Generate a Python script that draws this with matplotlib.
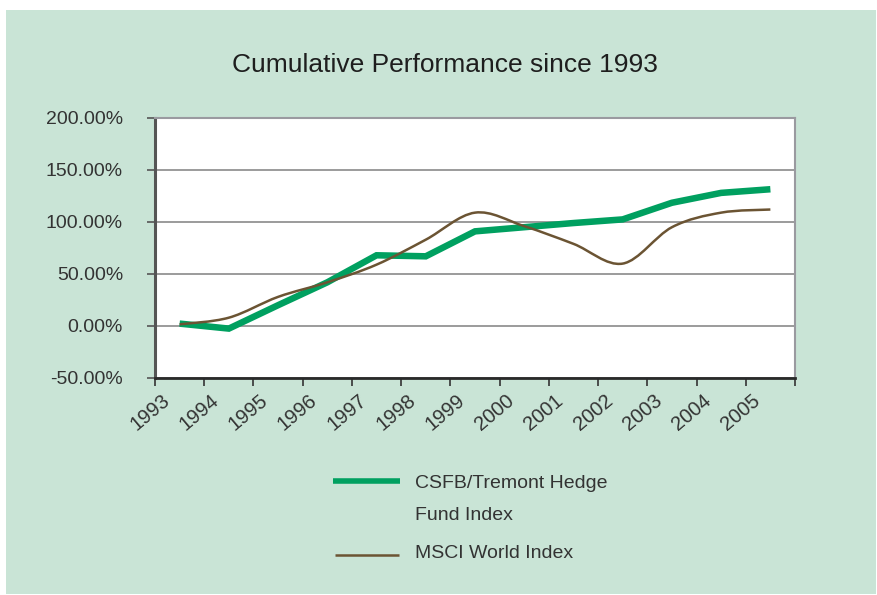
import numpy as np
import matplotlib
matplotlib.use("Agg")
import matplotlib.pyplot as plt
import matplotlib.transforms as mtransforms
from matplotlib.path import Path
from matplotlib.patches import PathPatch, Rectangle
from matplotlib.lines import Line2D

plt.rcParams['font.family'] = ['Liberation Sans', 'DejaVu Sans']

# --- Data (cumulative % since 1993) ---
years = [1993, 1994, 1995, 1996, 1997, 1998, 1999, 2000, 2001, 2002, 2003, 2004, 2005]
hedge_fund = [2.3, -2.5, 20, 42, 68, 67, 91, 95, 99, 102.5, 118.5, 128, 131.5]
msci_world = [1.6, 8, 28, 42, 59, 83, 109, 96, 79, 60, 95, 109, 112]
y_ticks = [-50, 0, 50, 100, 150, 200]

BG = '#C9E4D6'
GREEN = '#00A060'
BROWN = '#6B5433'
TEXT = '#333333'

W, H = 877, 595


def smooth_path(x, y):
    """
    Excel-like smoothed line: each segment drawn as a cubic Bezier
    with Catmull-Rom control points.
    """
    pts = np.column_stack([x, y])
    padded = np.vstack([pts[0], pts, pts[-1]])
    verts = [pts[0]]
    codes = [Path.MOVETO]
    for i in range(1, len(padded) - 2):
        p0, p1, p2, p3 = padded[i - 1], padded[i], padded[i + 1], padded[i + 2]
        verts += [p1 + (p2 - p0) / 6, p2 - (p3 - p1) / 6, p2]
        codes += [Path.CURVE4] * 3
    return Path(verts, codes)


fig = plt.figure(figsize=(W / 100, H / 100), dpi=100)
fig.add_artist(Rectangle((6 / W, 1 - 594 / H), 870 / W, 584 / H,
                         transform=fig.transFigure, facecolor=BG,
                         edgecolor='none', zorder=-5))

ax = fig.add_axes([155 / W, 1 - 378 / H, 640 / W, 260 / H])
ax.set_facecolor('white')

x = np.array(years) + 0.5
ax.plot(x, hedge_fund, color=GREEN, lw=4.7, solid_joinstyle='miter',
        solid_capstyle='butt', zorder=3)
ax.add_patch(PathPatch(smooth_path(x, msci_world), facecolor='none',
                       edgecolor=BROWN, lw=1.8, zorder=4))

ax.set_xlim(1993, 2006)
ax.set_ylim(-50, 200)

# y axis
ax.set_yticks(y_ticks)
ax.set_yticklabels([f'{v:.2f}%' for v in y_ticks])
ax.yaxis.grid(True, color='#8a8a8a', lw=1.2)
ax.set_axisbelow(True)

ax.tick_params(axis='y', direction='out', length=6, width=1.2, color='#555555',
               pad=17, labelsize=14, labelcolor=TEXT)
ax.tick_params(axis='x', direction='out', length=6, width=1.2, color='#333333',
               pad=3, labelsize=14.5, labelcolor=TEXT)

# x axis (offset applied after tick_params, which resets label transforms)
ax.set_xticks(range(1993, 2007))
ax.set_xticklabels([str(y) for y in years] + [''], rotation=40,
                   ha='right', va='top', rotation_mode='anchor')
offset = mtransforms.ScaledTranslation(6 / 100, 0, fig.dpi_scale_trans)
for lab in ax.get_xticklabels():
    lab.set_transform(lab.get_transform() + offset)

ax.spines['left'].set_color('#555555')
ax.spines['left'].set_linewidth(2.2)
ax.spines['bottom'].set_color('#2a2a2a')
ax.spines['bottom'].set_linewidth(2)
for side in ['top', 'right']:
    ax.spines[side].set_color('#9a9aa0')
    ax.spines[side].set_linewidth(1.5)

# --- Title ---
fig.text(445 / W, 1 - 65 / H, 'Cumulative Performance since 1993',
         ha='center', va='center', fontsize=19, color='#1e1e1e')

# --- Legend (drawn by hand so the green key sits on the first text line) ---
fig.add_artist(Line2D([333 / W, 400 / W], [1 - 481 / H] * 2, color=GREEN,
                      lw=4, solid_capstyle='butt', transform=fig.transFigure))
fig.text(415 / W, 1 - 483 / H, 'CSFB/Tremont Hedge', va='center',
         fontsize=14, color=TEXT)
fig.text(415 / W, 1 - 515 / H, 'Fund Index', va='center',
         fontsize=14, color=TEXT)
fig.add_artist(Line2D([335 / W, 399 / W], [1 - 555 / H] * 2, color=BROWN,
                      lw=1.8, solid_capstyle='butt', transform=fig.transFigure))
fig.text(415 / W, 1 - 554 / H, 'MSCI World Index', va='center',
         fontsize=14, color=TEXT)

fig.savefig('out.png', dpi=100, facecolor='white')
